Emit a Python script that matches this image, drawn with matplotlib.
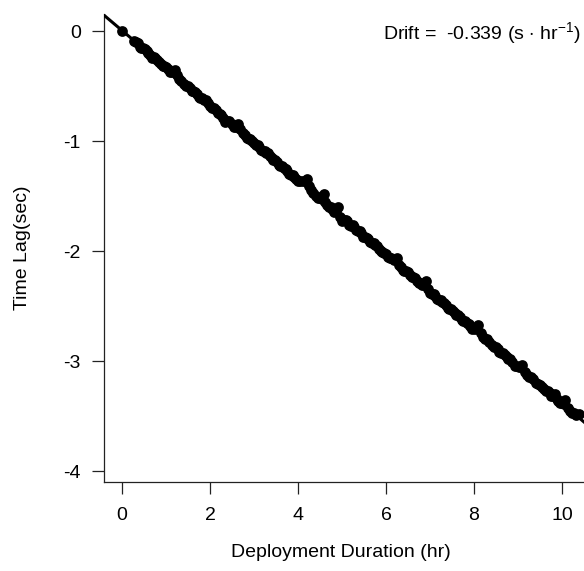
import matplotlib
matplotlib.use("Agg")
import matplotlib.pyplot as plt

plt.rcParams['font.family'] = ['Liberation Sans', 'DejaVu Sans']
plt.rcParams['axes.unicode_minus'] = False
plt.rcParams['mathtext.fontset'] = 'custom'
plt.rcParams['mathtext.rm'] = 'Liberation Sans'

# deployment duration (hr) and time lag (sec)
duration = [0.00, 0.28, 0.36, 0.44, 0.52, 0.60, 0.68, 0.76, 0.84, 0.92,
            1.00, 1.08, 1.20, 1.30, 1.40, 1.50, 1.58, 1.66, 1.74, 1.82,
            1.90, 2.00, 2.10, 2.18, 2.26, 2.34, 2.44, 2.54, 2.64, 2.74,
            2.84, 2.92, 3.00, 3.08, 3.16, 3.24, 3.32, 3.40, 3.48, 3.56,
            3.64, 3.72, 3.80, 3.88, 3.96, 4.04, 4.20, 4.30, 4.40, 4.50,
            4.58, 4.66, 4.74, 4.82, 4.90, 5.00, 5.08, 5.16, 5.24, 5.32,
            5.40, 5.48, 5.56, 5.64, 5.72, 5.80, 5.88, 5.96, 6.04, 6.12,
            6.25, 6.34, 6.42, 6.50, 6.58, 6.66, 6.74, 6.82, 6.90, 7.00,
            7.08, 7.16, 7.24, 7.32, 7.40, 7.48, 7.56, 7.64, 7.72, 7.80,
            7.88, 7.96, 8.10, 8.20, 8.30, 8.40, 8.50, 8.58, 8.66, 8.74,
            8.82, 8.93, 9.02, 9.10, 9.20, 9.30, 9.40, 9.50, 9.60, 9.68,
            9.76, 9.84, 9.92, 10.00, 10.08, 10.18, 10.28, 10.38,
            0.32, 0.40, 0.48, 0.56, 0.64, 0.72, 0.80, 0.88, 0.96, 1.04,
            1.14, 1.25, 1.35, 1.45, 1.54, 1.62, 1.70, 1.78, 1.86, 1.95,
            2.05, 2.14, 2.22, 2.30, 2.39, 2.49, 2.59, 2.69, 2.79, 2.88,
            2.96, 3.04, 3.12, 3.20, 3.28, 3.36, 3.44, 3.52, 3.60, 3.68,
            3.76, 3.84, 3.92, 4.00, 4.12, 4.25, 4.35, 4.45, 4.54, 4.62,
            4.70, 4.78, 4.86, 4.95, 5.04, 5.12, 5.20, 5.28, 5.36, 5.44,
            5.52, 5.60, 5.68, 5.76, 5.84, 5.92, 6.00, 6.08, 6.18, 6.30,
            6.38, 6.46, 6.54, 6.62, 6.70, 6.78, 6.86, 6.95, 7.04, 7.12,
            7.20, 7.28, 7.36, 7.44, 7.52, 7.60, 7.68, 7.76, 7.84, 7.92,
            8.03, 8.15, 8.25, 8.35, 8.45, 8.54, 8.62, 8.70, 8.78, 8.87,
            8.97, 9.06, 9.15, 9.25, 9.35, 9.45, 9.55, 9.64, 9.72, 9.80,
            9.88, 9.96, 10.04, 10.13, 10.23, 10.33]
time_lag = [0.000, -0.095, -0.112, -0.154, -0.166, -0.198, -0.241, -0.243, -0.280, -0.322,
            -0.329, -0.371, -0.357, -0.436, -0.485, -0.499, -0.541, -0.553, -0.600, -0.612,
            -0.629, -0.683, -0.702, -0.749, -0.761, -0.823, -0.822, -0.871, -0.845, -0.924,
            -0.973, -0.980, -1.022, -1.034, -1.081, -1.093, -1.110, -1.158, -1.170, -1.217,
            -1.229, -1.251, -1.298, -1.310, -1.347, -1.360, -1.344, -1.448, -1.502, -1.521,
            -1.483, -1.585, -1.597, -1.644, -1.601, -1.725, -1.717, -1.759, -1.766, -1.808,
            -1.821, -1.868, -1.880, -1.917, -1.929, -1.951, -2.003, -2.015, -2.058, -2.065,
            -2.059, -2.144, -2.186, -2.194, -2.236, -2.248, -2.295, -2.307, -2.269, -2.378,
            -2.390, -2.437, -2.449, -2.471, -2.519, -2.531, -2.568, -2.580, -2.627, -2.639,
            -2.661, -2.708, -2.676, -2.785, -2.804, -2.858, -2.877, -2.919, -2.926, -2.968,
            -2.980, -3.047, -3.053, -3.035, -3.124, -3.143, -3.197, -3.216, -3.259, -3.272,
            -3.319, -3.296, -3.368, -3.380, -3.357, -3.456, -3.475, -3.479,
            -0.103, -0.141, -0.158, -0.185, -0.222, -0.239, -0.266, -0.303, -0.320, -0.348,
            -0.376, -0.404, -0.453, -0.497, -0.517, -0.544, -0.571, -0.608, -0.626, -0.656,
            -0.700, -0.720, -0.758, -0.795, -0.815, -0.849, -0.868, -0.895, -0.946, -0.981,
            -0.998, -1.036, -1.053, -1.090, -1.107, -1.134, -1.171, -1.188, -1.225, -1.243,
            -1.275, -1.307, -1.324, -1.361, -1.367, -1.411, -1.470, -1.514, -1.529, -1.556,
            -1.598, -1.615, -1.638, -1.693, -1.714, -1.731, -1.768, -1.785, -1.822, -1.839,
            -1.876, -1.893, -1.931, -1.943, -1.980, -2.012, -2.029, -2.066, -2.080, -2.126,
            -2.168, -2.185, -2.222, -2.239, -2.276, -2.293, -2.306, -2.346, -2.392, -2.409,
            -2.446, -2.463, -2.495, -2.527, -2.544, -2.581, -2.599, -2.636, -2.653, -2.685,
            -2.707, -2.748, -2.802, -2.826, -2.870, -2.890, -2.927, -2.944, -2.981, -3.012,
            -3.046, -3.056, -3.097, -3.141, -3.165, -3.209, -3.232, -3.273, -3.290, -3.317,
            -3.344, -3.381, -3.394, -3.424, -3.473, -3.492]

drift = -0.339
intercept = 0.005

xticks = [0, 2, 4, 6, 8, 10]
yticks = [0, -1, -2, -3, -4]

fig = plt.figure(figsize=(5.84, 5.71), dpi=100)
ax = fig.add_axes([104 / 584, 89 / 571, 487 / 584, 468 / 571])

ax.scatter(duration, time_lag, s=60, color='black', linewidths=0, zorder=3)
ax.axline((0, intercept), slope=drift, color='black', lw=2.2, zorder=4)

ax.set_xlim(-0.41, 10.66)
ax.set_ylim(-4.1, 0.155)
ax.set_xticks(xticks)
ax.set_yticks(yticks)
ax.set_xticklabels([str(t) for t in xticks])
ax.set_yticklabels([str(t) for t in yticks])

for side in ['top', 'right']:
    ax.spines[side].set_visible(False)
for side in ['left', 'bottom']:
    ax.spines[side].set_linewidth(0.9)
    ax.spines[side].set_color('#222222')
ax.tick_params(direction='out', length=8.6, width=0.9, color='#222222',
               labelsize=14)
ax.tick_params(axis='x', pad=9.5)
ax.tick_params(axis='y', pad=8)

ax.set_xlabel('Deployment Duration (hr)', fontsize=14)
ax.set_ylabel('Time Lag(sec)', fontsize=14)
ax.xaxis.set_label_coords((341 - 104) / 487, -(544 - 482) / 468)
ax.yaxis.set_label_coords(-(104 - 31) / 487, 0.5)

ax.text(5.93, -0.02, r'Drift =  -0.339 (s $\cdot$ hr$^{-1}$)', fontsize=14,
        ha='left', va='center', clip_on=True)

fig.savefig('out.png', dpi=100)
